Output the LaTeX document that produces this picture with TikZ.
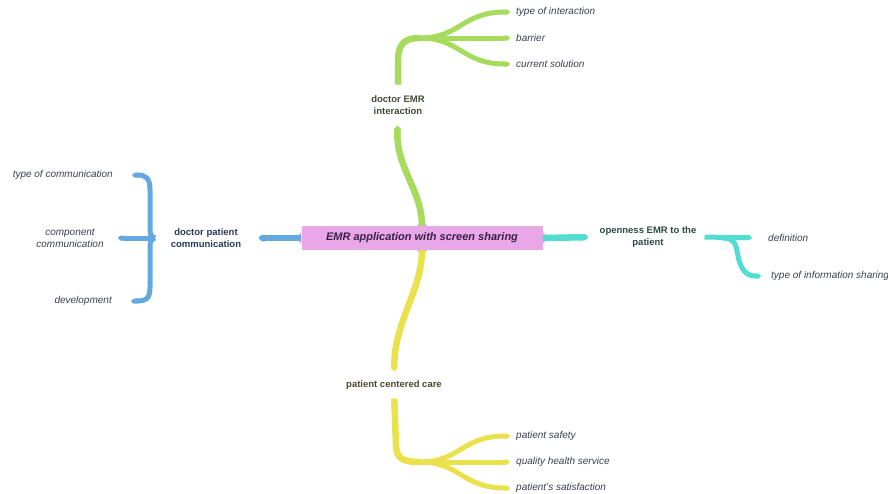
\documentclass[tikz,border=0pt]{standalone}
\usepackage{fontspec}
\setmainfont{Liberation Sans}
\usetikzlibrary{arrows.meta}
\definecolor{pinkfill}{HTML}{E8A8E8}
\definecolor{centertext}{HTML}{3B1F4A}
\definecolor{greenc}{HTML}{A6DB5E}
\definecolor{greentext}{HTML}{3F4D33}
\definecolor{bluec}{HTML}{63A9E0}
\definecolor{bluetext}{HTML}{2B3A5A}
\definecolor{cyanc}{HTML}{52DDD2}
\definecolor{cyantext}{HTML}{2E4848}
\definecolor{yellowc}{HTML}{E9E24D}
\definecolor{yellowtext}{HTML}{4D4A2B}
\definecolor{subtext}{HTML}{3C4050}
\tikzset{
  mainline/.style={line width=6.5pt, -{Triangle Cap[]}},
  subline/.style={line width=5pt, -{Triangle Cap[]}},
  head/.style={font=\fontsize{9.5}{11.5}\selectfont\bfseries, align=center, inner sep=3pt},
  sublabel/.style={font=\fontsize{10}{12}\selectfont\itshape, text=subtext, inner sep=0pt},
  centerbox/.style={fill=pinkfill, text=centertext, font=\fontsize{11}{13}\selectfont\bfseries\itshape,
    minimum width=241pt, minimum height=24pt, inner sep=0pt},
}
\begin{document}
\begin{tikzpicture}[x=1pt,y=-1pt]
\useasboundingbox (0,0) rectangle (888,493);
\fill[white] (0,0) rectangle (888,493);

% center
\node[centerbox] (c) at (422,238) {EMR application with screen sharing};
\fill[pinkfill] (c.west) ++(0,-6) -- ++(-6,6) -- ++(6,6) -- cycle;
\fill[pinkfill] (c.east) ++(0,-6) -- ++(6,6) -- ++(-6,6) -- cycle;
\fill[pinkfill] (c.north) ++(-5,0) -- ++(5,-6) -- ++(5,6) -- cycle;
\fill[pinkfill] (c.south) ++(-5,0) -- ++(5,6) -- ++(5,-6) -- cycle;

% headings
\node[head, text=greentext] (g) at (398,105) {doctor EMR\\interaction};
\node[head, text=bluetext] (b) at (206,238) {doctor patient\\communication};
\node[head, text=cyantext] (o) at (648,237) {openness EMR to the\\patient};
\node[head, text=yellowtext] (p) at (394,385) {patient centered care};

% green leaves
\node[sublabel, anchor=west] (gt1) at (516,12) {type of interaction};
\node[sublabel, anchor=west] (gt2) at (516,38) {barrier};
\node[sublabel, anchor=west] (gt3) at (516,64) {current solution};
% blue leaves
\node[sublabel, anchor=east] (bl1) at (113,175) {type of communication};
\node[sublabel, align=center] (bl2) at (70,238) {component\\communication};
\node[sublabel, anchor=east] (bl3) at (112,301) {development};
% cyan leaves
\node[sublabel, anchor=west] (cd) at (768,238) {definition};
\node[sublabel, anchor=west] (ct) at (771,276) {type of information sharing};
% yellow leaves
\node[sublabel, anchor=west] (yt1) at (516,436) {patient safety};
\node[sublabel, anchor=west] (yt2) at (516,462) {quality health service};
\node[sublabel, anchor=west] (yt3) at (516,488) {patient's satisfaction};

\coordinate (gj) at (420,38);
\coordinate (bj) at (155,238);
\coordinate (bs) at (150,238);
\coordinate (cj) at (722,238);
\coordinate (yj) at (420,462);

% green branch
\draw[mainline, greenc, shorten >=8pt] (c.north) .. controls (422,190) and (396,168) .. (g.south);
\draw[mainline, greenc, -, shorten <=8pt] (g.north) -- (398,62) .. controls (398,44) and (404,38) .. (gj);
\draw[subline, greenc, shorten >=6pt] (gj) .. controls (460,38) and (462,12) .. (gt1.west);
\draw[subline, greenc, shorten >=6pt] (gj) -- (gt2.west);
\draw[subline, greenc, shorten >=6pt] (gj) .. controls (460,38) and (462,64) .. (gt3.west);

% blue branch
\draw[mainline, bluec, shorten >=14pt] (c.west) -- (b.east);
\draw[subline, bluec, shorten >=19pt] (bj) .. controls (150,236) and (150,234) .. (150,226) -- (150,190) .. controls (150,178) and (146,175) .. (bl1.east);
\draw[subline, bluec, shorten >=19pt] (bj) .. controls (150,240) and (150,242) .. (150,250) -- (150,287) .. controls (150,299) and (146,301) .. (bl3.east);
\draw[subline, bluec, shorten >=14pt] (bs) -- (bl2.east);

% cyan branch
\draw[mainline, cyanc, shorten >=8pt] (c.east) -- (o.west);
\draw[subline, cyanc, shorten <=5pt, shorten >=16pt] (o.east) -- (cd.west);
\draw[subline, cyanc, shorten >=10pt] (cj) .. controls (736,238) and (736,246) .. (738,256) .. controls (741,270) and (746,276) .. (ct.west);

% yellow branch
\draw[mainline, yellowc, shorten >=6pt] (c.south) .. controls (422,290) and (395,320) .. (p.north);
\draw[mainline, yellowc, -, shorten <=6pt] (p.south) -- (396,444) .. controls (396,458) and (402,462) .. (yj);
\draw[subline, yellowc, shorten >=6pt] (yj) .. controls (460,462) and (462,436) .. (yt1.west);
\draw[subline, yellowc, shorten >=6pt] (yj) -- (yt2.west);
\draw[subline, yellowc, shorten >=6pt] (yj) .. controls (460,462) and (462,488) .. (yt3.west);
\end{tikzpicture}
\end{document}
